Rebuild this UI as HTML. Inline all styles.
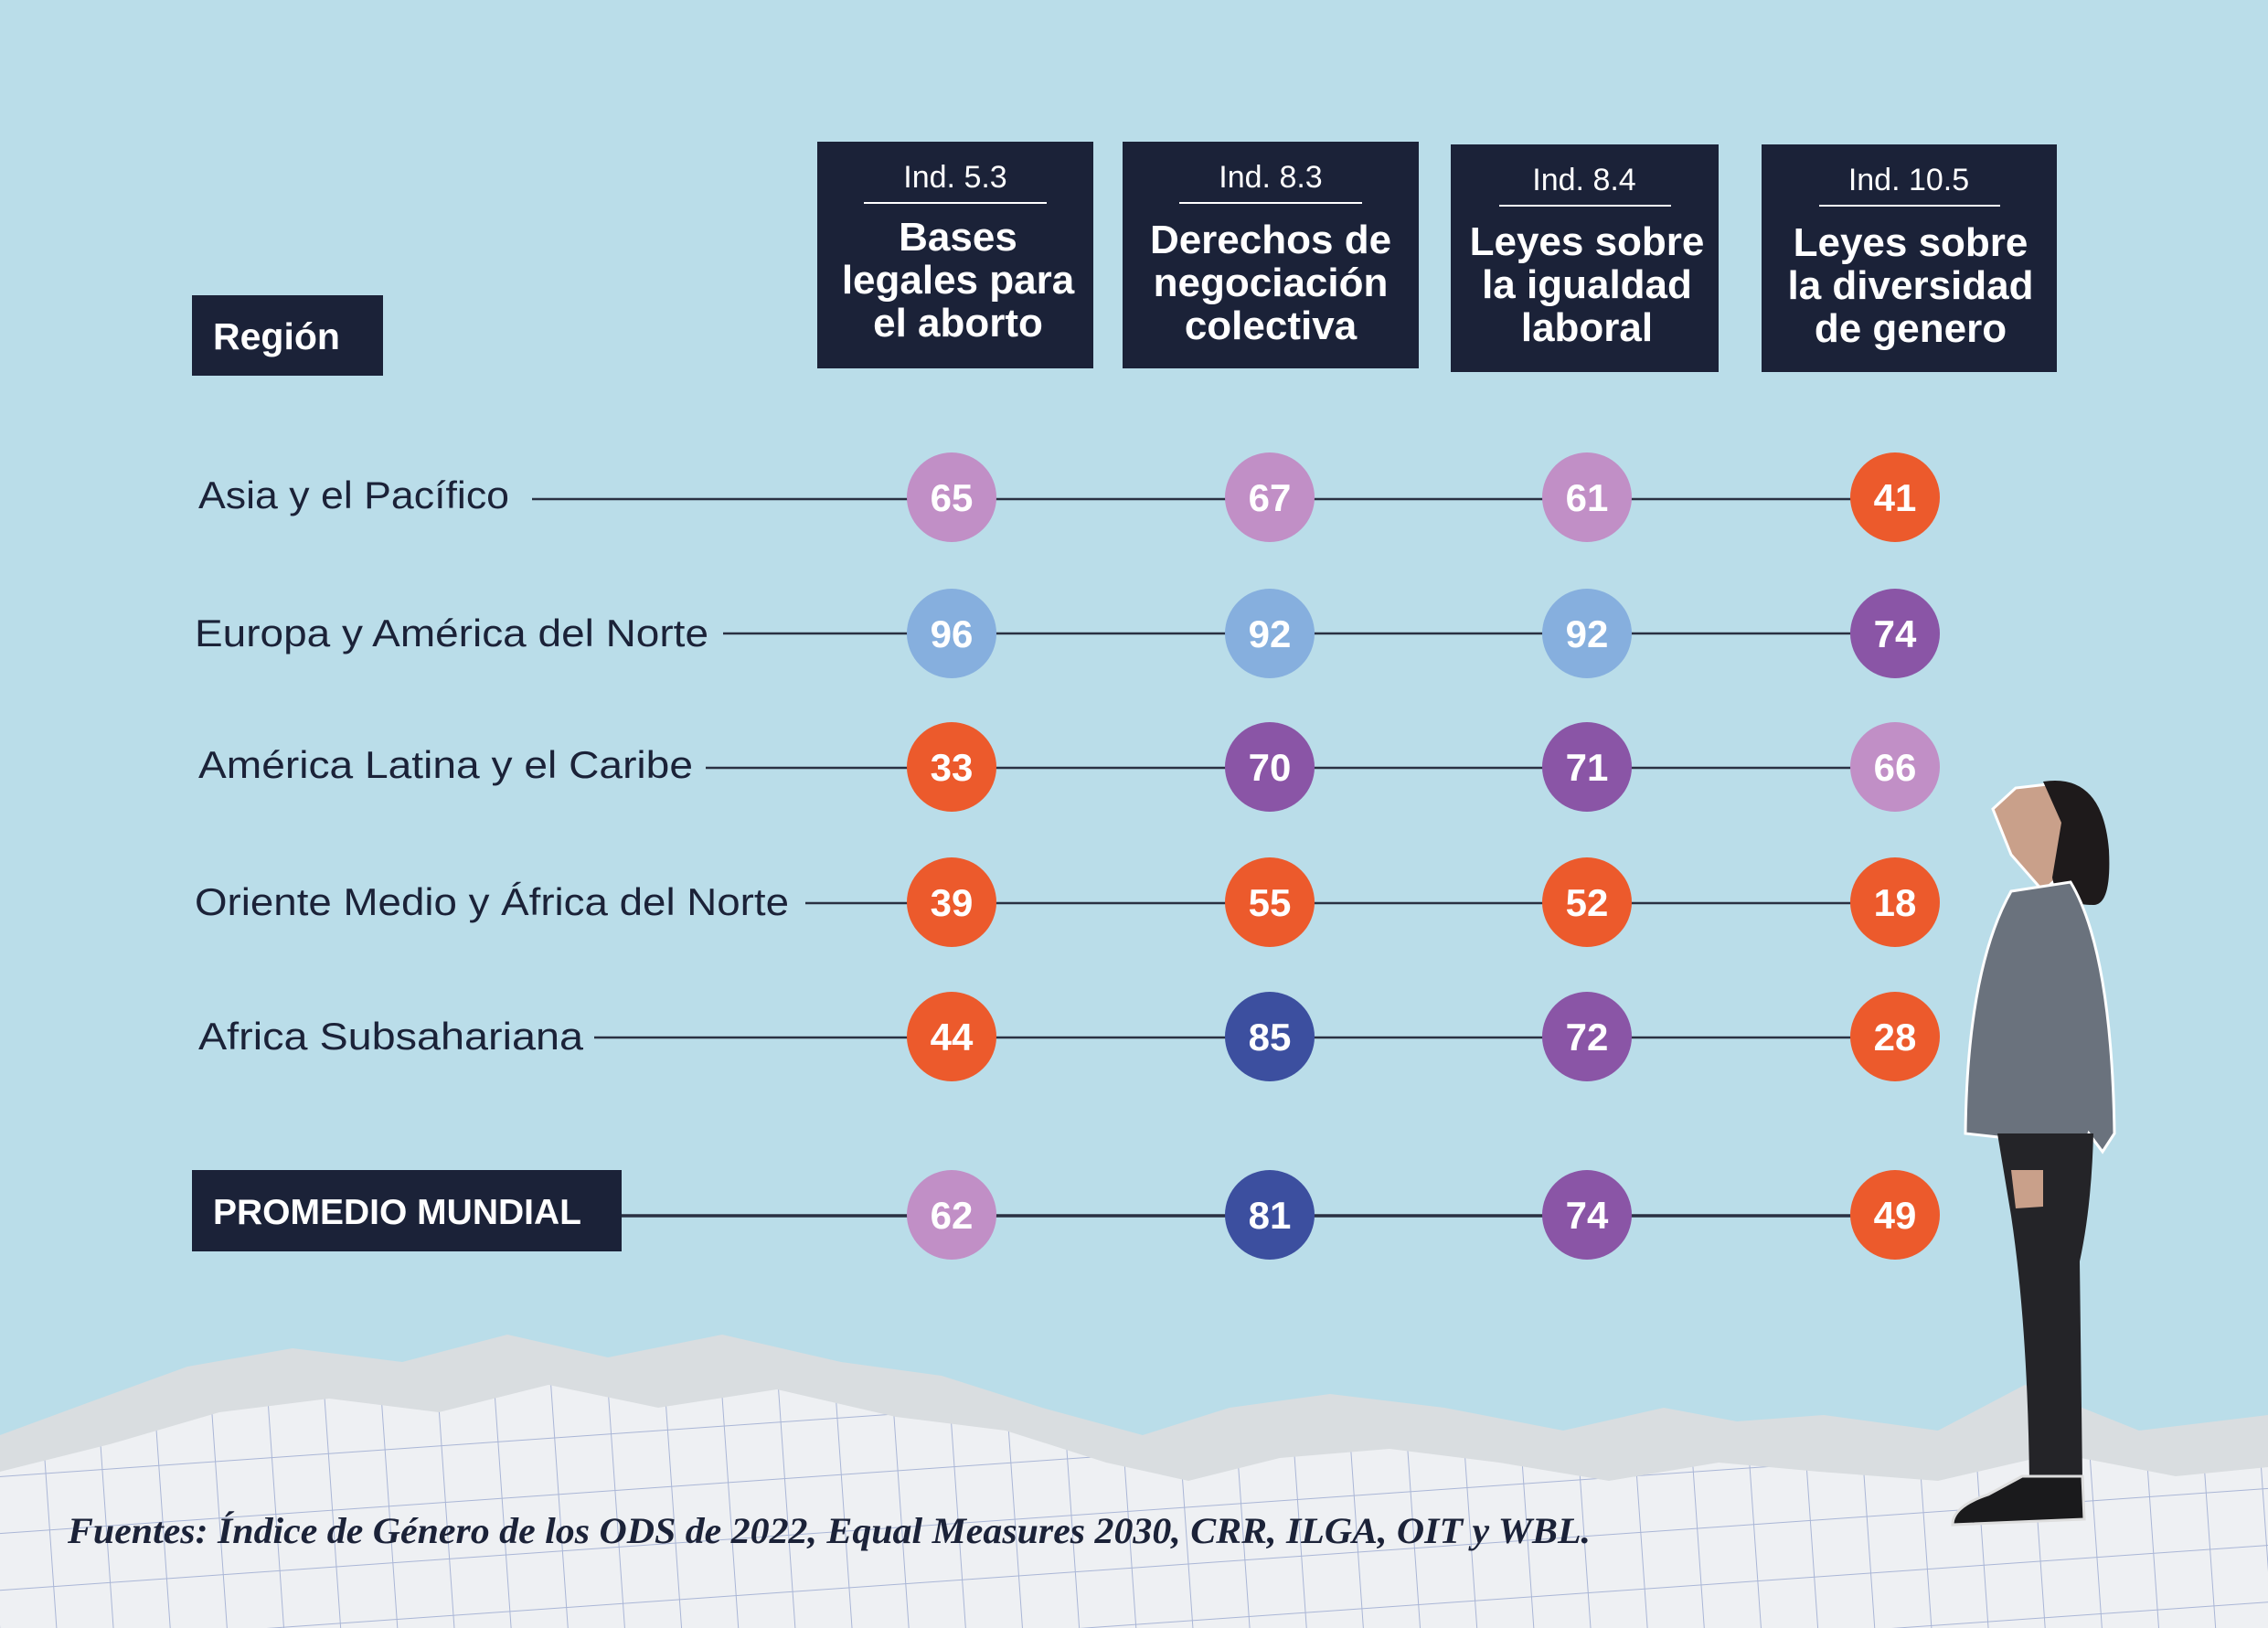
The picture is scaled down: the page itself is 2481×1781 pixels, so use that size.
<!DOCTYPE html>
<html><head><meta charset="utf-8"><style>
html,body{margin:0;padding:0;}
body{width:2481px;height:1781px;overflow:hidden;background:#badde9;}
svg{display:block;}
</style></head><body>
<svg width="2481" height="1781" viewBox="0 0 2481 1781" xmlns="http://www.w3.org/2000/svg">
<rect width="2481" height="1781" fill="#badde9"/>
<defs>
<pattern id="grid" width="62" height="62" patternUnits="userSpaceOnUse" patternTransform="rotate(-4)">
<rect width="62" height="62" fill="#eef0f3"/>
<path d="M62 0V62M0 62H62" stroke="#aab6d6" stroke-width="2" fill="none"/>
</pattern>
</defs>
<polygon fill="#d9dde0" points="0,1570 95,1535 205,1495 320,1475 440,1490 555,1460 665,1485 790,1460 920,1490 1030,1505 1140,1540 1250,1570 1345,1540 1455,1525 1580,1540 1710,1565 1820,1540 1900,1555 1995,1548 2120,1565 2215,1515 2340,1565 2481,1548 2481,1781 0,1781"/>
<polygon fill="url(#grid)" points="0,1610 120,1580 240,1545 360,1530 480,1545 600,1515 720,1540 850,1520 980,1550 1100,1565 1210,1600 1300,1620 1400,1595 1520,1585 1640,1600 1760,1620 1880,1600 1990,1610 2120,1620 2250,1590 2380,1615 2481,1605 2481,1781 0,1781"/>
<g fill="#1b2238">
<rect x="210" y="323" width="209" height="88"/>
<rect x="894" y="155" width="302" height="248"/>
<rect x="1228" y="155" width="324" height="248"/>
<rect x="1587" y="158" width="293" height="249"/>
<rect x="1927" y="158" width="323" height="249"/>
<rect x="210" y="1280" width="470" height="89"/>
</g>
<g stroke="#ffffff" stroke-width="2">
<line x1="945" y1="222" x2="1145" y2="222"/>
<line x1="1290" y1="222" x2="1490" y2="222"/>
<line x1="1640" y1="225" x2="1828" y2="225"/>
<line x1="1990" y1="225" x2="2188" y2="225"/>
</g>
<g font-family="Liberation Sans, sans-serif" fill="#fff" text-anchor="middle">
<g font-size="34">
<text x="1045" y="205">Ind. 5.3</text>
<text x="1390" y="205">Ind. 8.3</text>
<text x="1733" y="208">Ind. 8.4</text>
<text x="2088" y="208">Ind. 10.5</text>
</g>
<g font-size="44" font-weight="bold">
<text x="1048" y="274">Bases</text><text x="1048" y="321">legales para</text><text x="1048" y="368">el aborto</text>
<text x="1390" y="277">Derechos de</text><text x="1390" y="324">negociación</text><text x="1390" y="371">colectiva</text>
<text x="1736" y="279">Leyes sobre</text><text x="1736" y="326">la igualdad</text><text x="1736" y="373">laboral</text>
<text x="2090" y="280">Leyes sobre</text><text x="2090" y="327">la diversidad</text><text x="2090" y="374">de genero</text>
</g>
<text x="233" y="382" font-size="41" font-weight="bold" text-anchor="start">Región</text>
<text x="233" y="1339" font-size="39" font-weight="bold" text-anchor="start">PROMEDIO MUNDIAL</text>
</g>
<g stroke="#2a3042" stroke-width="2.5">
<line x1="582" y1="546" x2="2073" y2="546"/>
<line x1="791" y1="693" x2="2073" y2="693"/>
<line x1="772" y1="840" x2="2073" y2="840"/>
<line x1="881" y1="988" x2="2073" y2="988"/>
<line x1="650" y1="1135" x2="2073" y2="1135"/>
<line x1="680" y1="1330" x2="2073" y2="1330" stroke-width="3.5"/>
</g>
<g font-family="Liberation Sans, sans-serif" font-size="42" fill="#1b2238" lengthAdjust="spacingAndGlyphs">
<text x="217" y="556" textLength="340" lengthAdjust="spacingAndGlyphs">Asia y el Pacífico</text>
<text x="213" y="707" textLength="562" lengthAdjust="spacingAndGlyphs">Europa y América del Norte</text>
<text x="217" y="851" textLength="541" lengthAdjust="spacingAndGlyphs">América Latina y el Caribe</text>
<text x="213" y="1001" textLength="650" lengthAdjust="spacingAndGlyphs">Oriente Medio y África del Norte</text>
<text x="217" y="1148" textLength="421" lengthAdjust="spacingAndGlyphs">Africa Subsahariana</text>
</g>
<g font-family="Liberation Sans, sans-serif" font-size="42" font-weight="bold" fill="#fff" text-anchor="middle">
<g><circle cx="1041" cy="544" r="49" fill="#c18fc6"/><text x="1041" y="559">65</text></g>
<g><circle cx="1389" cy="544" r="49" fill="#c18fc6"/><text x="1389" y="559">67</text></g>
<g><circle cx="1736" cy="544" r="49" fill="#c18fc6"/><text x="1736" y="559">61</text></g>
<g><circle cx="2073" cy="544" r="49" fill="#ec5a2c"/><text x="2073" y="559">41</text></g>
<g><circle cx="1041" cy="693" r="49" fill="#86afde"/><text x="1041" y="708">96</text></g>
<g><circle cx="1389" cy="693" r="49" fill="#86afde"/><text x="1389" y="708">92</text></g>
<g><circle cx="1736" cy="693" r="49" fill="#86afde"/><text x="1736" y="708">92</text></g>
<g><circle cx="2073" cy="693" r="49" fill="#8a55a6"/><text x="2073" y="708">74</text></g>
<g><circle cx="1041" cy="839" r="49" fill="#ec5a2c"/><text x="1041" y="854">33</text></g>
<g><circle cx="1389" cy="839" r="49" fill="#8a55a6"/><text x="1389" y="854">70</text></g>
<g><circle cx="1736" cy="839" r="49" fill="#8a55a6"/><text x="1736" y="854">71</text></g>
<g><circle cx="2073" cy="839" r="49" fill="#c18fc6"/><text x="2073" y="854">66</text></g>
<g><circle cx="1041" cy="987" r="49" fill="#ec5a2c"/><text x="1041" y="1002">39</text></g>
<g><circle cx="1389" cy="987" r="49" fill="#ec5a2c"/><text x="1389" y="1002">55</text></g>
<g><circle cx="1736" cy="987" r="49" fill="#ec5a2c"/><text x="1736" y="1002">52</text></g>
<g><circle cx="2073" cy="987" r="49" fill="#ec5a2c"/><text x="2073" y="1002">18</text></g>
<g><circle cx="1041" cy="1134" r="49" fill="#ec5a2c"/><text x="1041" y="1149">44</text></g>
<g><circle cx="1389" cy="1134" r="49" fill="#3c4f9f"/><text x="1389" y="1149">85</text></g>
<g><circle cx="1736" cy="1134" r="49" fill="#8a55a6"/><text x="1736" y="1149">72</text></g>
<g><circle cx="2073" cy="1134" r="49" fill="#ec5a2c"/><text x="2073" y="1149">28</text></g>
<g><circle cx="1041" cy="1329" r="49" fill="#c18fc6"/><text x="1041" y="1344">62</text></g>
<g><circle cx="1389" cy="1329" r="49" fill="#3c4f9f"/><text x="1389" y="1344">81</text></g>
<g><circle cx="1736" cy="1329" r="49" fill="#8a55a6"/><text x="1736" y="1344">74</text></g>
<g><circle cx="2073" cy="1329" r="49" fill="#ec5a2c"/><text x="2073" y="1344">49</text></g>
</g>
<!-- woman -->
<g>
<path d="M2180,885 L2205,862 L2240,858 L2258,880 L2262,950 L2235,975 L2200,935 Z" fill="#c9a08a" stroke="#fff" stroke-width="3"/>
<path d="M2235,855 Q2300,845 2307,930 Q2310,990 2290,990 Q2250,990 2245,960 L2255,900 Z" fill="#1e1a1b"/>
<path d="M2200,975 L2265,965 Q2310,1040 2313,1240 L2300,1260 L2285,1240 L2272,1280 L2205,1280 L2195,1245 L2150,1240 Q2152,1060 2200,975 Z" fill="#6a727d" stroke="#fff" stroke-width="3"/>
<path d="M2185,1240 L2290,1240 Q2288,1320 2275,1380 L2278,1620 L2220,1620 Q2218,1450 2200,1330 Z" fill="#242428"/>
<path d="M2200,1280 L2235,1280 L2235,1320 L2205,1322 Z" fill="#c9a08a"/>
<path d="M2212,1615 L2278,1615 L2280,1662 L2136,1668 Q2136,1648 2175,1635 Z" fill="#1a1a1c" stroke="#ddd" stroke-width="3"/>
</g>
<text x="74" y="1688" font-family="Liberation Serif, serif" font-size="40" font-weight="bold" font-style="italic" fill="#1b2238" textLength="1666" lengthAdjust="spacingAndGlyphs">Fuentes: Índice de Género de los ODS de 2022, Equal Measures 2030, CRR, ILGA, OIT y WBL.</text>
</svg>
</body></html>
